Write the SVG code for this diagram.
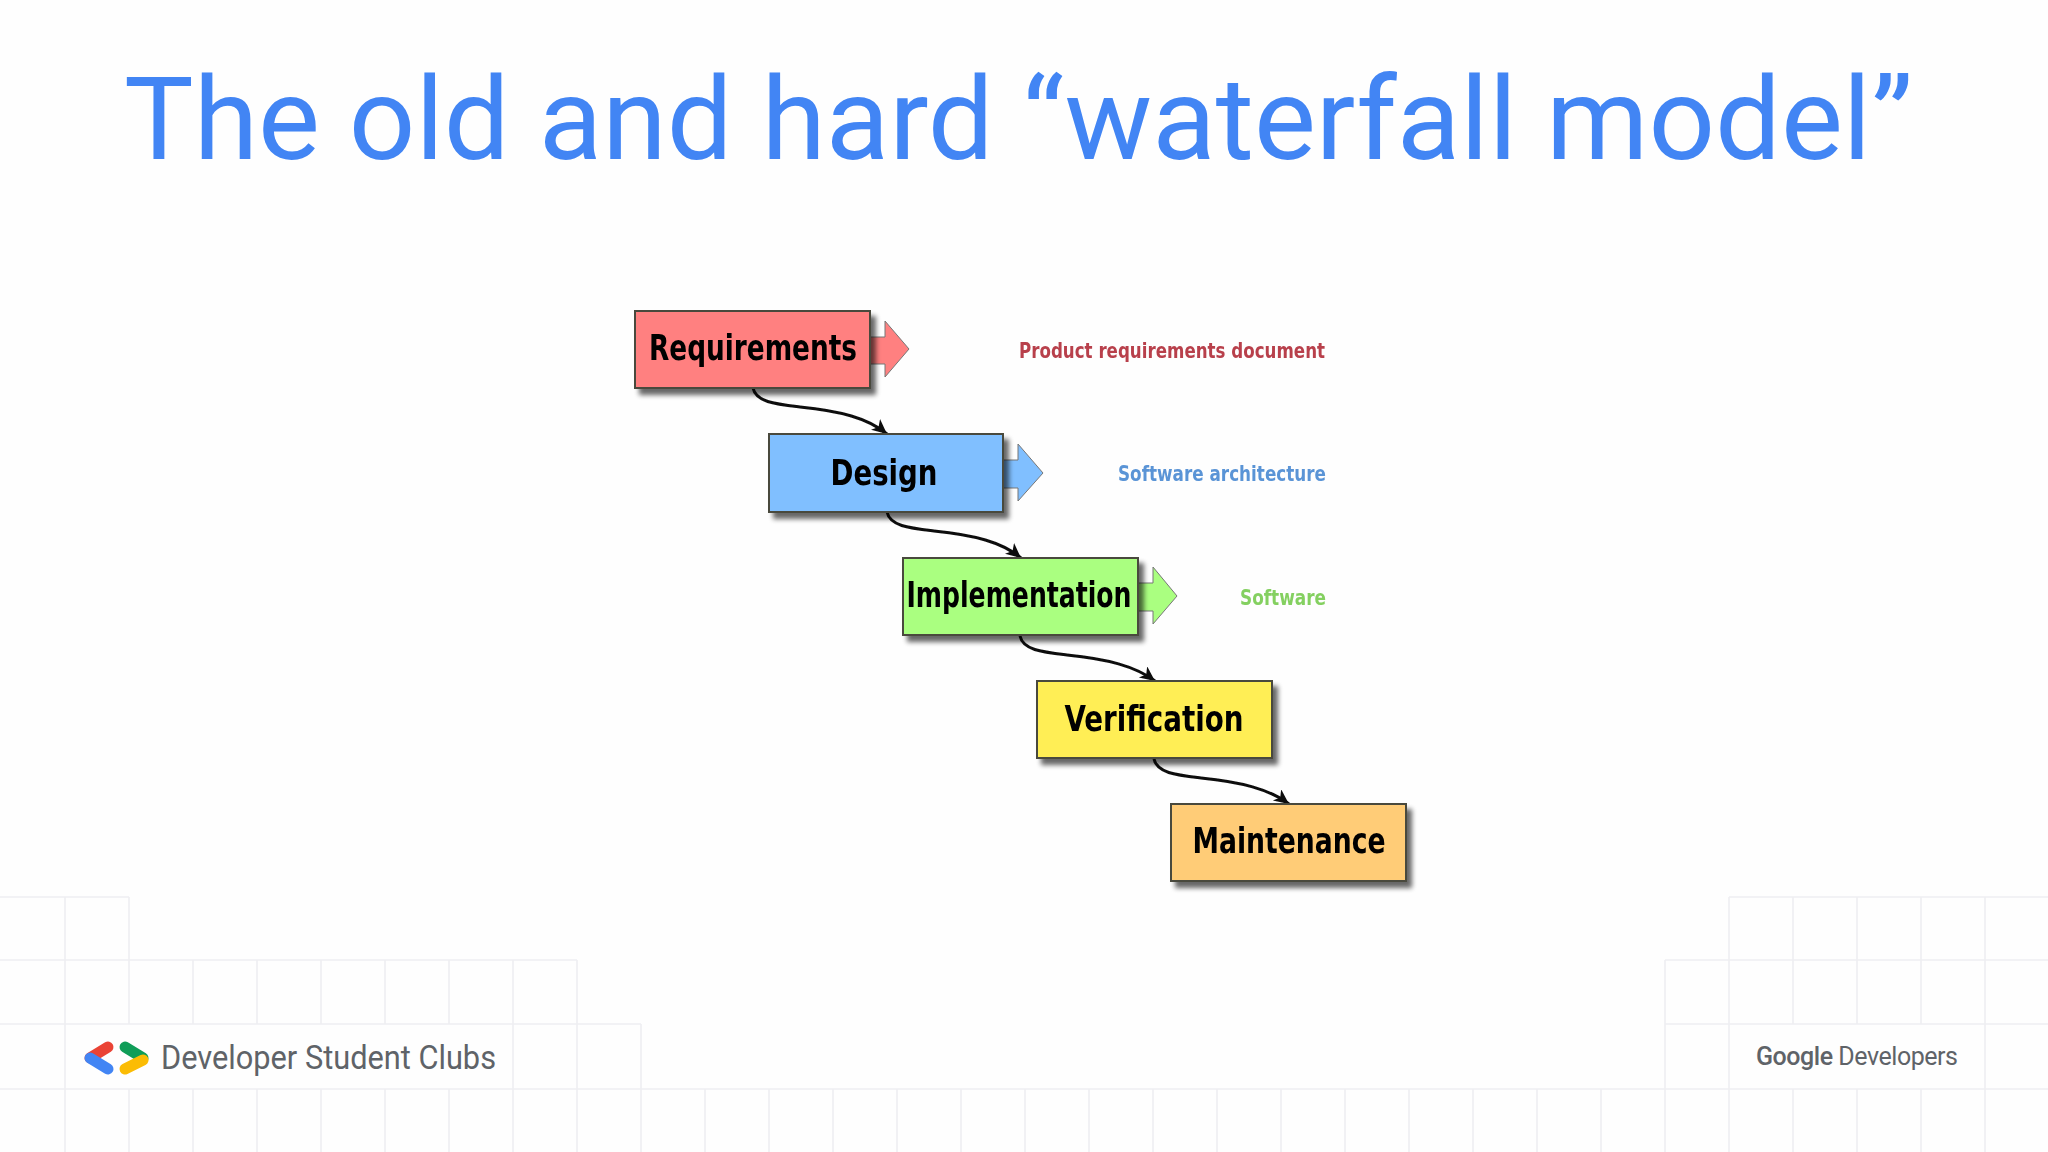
<svg xmlns="http://www.w3.org/2000/svg" width="2048" height="1152" viewBox="0 0 2048 1152">
<style>
.grid{stroke:#eeeef2;stroke-width:1.6;fill:none}
.box{stroke:#4a4a3c;stroke-width:2}
.lbl{font-family:"DejaVu Sans Condensed","DejaVu Sans",sans-serif;font-weight:700;font-size:35px;fill:#050505;text-anchor:middle}
.out{font-family:"DejaVu Sans Condensed","DejaVu Sans",sans-serif;font-weight:700;font-size:22px;text-anchor:end}
.conn{fill:none;stroke:#111;stroke-width:3;marker-end:url(#ah)}
.arr{stroke:#777;stroke-width:1}
</style>
<defs>
<filter id="sh" x="-10%" y="-10%" width="125%" height="130%"><feGaussianBlur in="SourceAlpha" stdDeviation="2.5"/><feOffset dx="5" dy="6"/><feComponentTransfer><feFuncA type="linear" slope="0.6"/></feComponentTransfer><feMerge><feMergeNode/><feMergeNode in="SourceGraphic"/></feMerge></filter>
<filter id="soft" x="-5%" y="-20%" width="110%" height="140%"><feGaussianBlur stdDeviation="0.6"/></filter>
<marker id="ah" markerUnits="userSpaceOnUse" markerWidth="18" markerHeight="16" refX="15" refY="7" orient="auto"><path d="M0 0L15 7L0 14L4 7Z" fill="#111"/></marker>
</defs>
<rect width="2048" height="1152" fill="#fefefe"/>
<g id="grid">
<path class="grid" d="M0 897H129M0 960H577M0 1024H641M0 1089H2048M1729 897H2048M1665 960H2048M1665 1024H2048"/>
<path class="grid" d="M65 897V1152M129 897V1024M193 960V1024M257 960V1024M321 960V1024M385 960V1024M449 960V1024M513 960V1152M577 960V1152M641 1024V1152"/>
<path class="grid" d="M129 1089V1152M193 1089V1152M257 1089V1152M321 1089V1152M385 1089V1152M449 1089V1152M705 1089V1152M769 1089V1152M833 1089V1152M897 1089V1152M961 1089V1152M1025 1089V1152M1089 1089V1152M1153 1089V1152M1217 1089V1152M1281 1089V1152M1345 1089V1152M1409 1089V1152M1473 1089V1152M1537 1089V1152M1601 1089V1152"/>
<path class="grid" d="M1665 960V1152M1729 897V1152M1793 897V1024M1857 897V1024M1921 897V1024M1985 897V1152M1793 1089V1152M1857 1089V1152M1921 1089V1152"/>
</g>
<text id="title" x="124" y="159" font-family="Roboto, sans-serif" font-size="115" font-weight="400" fill="#4285f4" textLength="1789" lengthAdjust="spacingAndGlyphs">The old and hard “waterfall model”</text>
<g id="connectors" filter="url(#soft)">
<path class="conn" d="M753 388C756 402 775 404 800 407C840 411 868 418 887 434"/>
<path class="conn" d="M887 512C890 526 909 528 934 531C974 535 1002 542 1021 558"/>
<path class="conn" d="M1020 636C1023 650 1042 652 1067 655C1107 659 1135 666 1155 681"/>
<path class="conn" d="M1154 759C1157 773 1176 775 1201 778C1241 782 1269 789 1289 804"/>
</g>
<g id="requirements">
<path class="arr" fill="#ff8080" d="M870 337H885V321L909 349L885 377V364H870Z"/>
<rect class="box" x="635" y="311" width="235" height="77" fill="#ff8080" filter="url(#sh)"/>
<text class="lbl" x="753" y="360" textLength="208" lengthAdjust="spacingAndGlyphs" filter="url(#soft)">Requirements</text>
</g>
<g id="design">
<path class="arr" fill="#80bfff" d="M1003 460H1018V444L1043 473L1018 501V488H1003Z"/>
<rect class="box" x="769" y="434" width="234" height="78" fill="#80bfff" filter="url(#sh)"/>
<text class="lbl" x="884" y="485" textLength="107" lengthAdjust="spacingAndGlyphs" filter="url(#soft)">Design</text>
</g>
<g id="implementation">
<path class="arr" fill="#aaff80" d="M1138 583H1153V567L1177 596L1153 624V611H1138Z"/>
<rect class="box" x="903" y="558" width="235" height="77" fill="#aaff80" filter="url(#sh)"/>
<text class="lbl" x="1019" y="607" textLength="225" lengthAdjust="spacingAndGlyphs" filter="url(#soft)">Implementation</text>
</g>
<g id="verification">
<rect class="box" x="1037" y="681" width="235" height="77" fill="#ffee55" filter="url(#sh)"/>
<text class="lbl" x="1154" y="731" textLength="179" lengthAdjust="spacingAndGlyphs" filter="url(#soft)">Verification</text>
</g>
<g id="maintenance">
<rect class="box" x="1171" y="804" width="235" height="77" fill="#ffcc77" filter="url(#sh)"/>
<text class="lbl" x="1289" y="853" textLength="193" lengthAdjust="spacingAndGlyphs" filter="url(#soft)">Maintenance</text>
</g>
<g id="outputs" filter="url(#soft)">
<text class="out" x="1325" y="358" fill="#b8404c" textLength="306" lengthAdjust="spacingAndGlyphs">Product requirements document</text>
<text class="out" x="1326" y="481" fill="#5a94d6" textLength="208" lengthAdjust="spacingAndGlyphs">Software architecture</text>
<text class="out" x="1326" y="605" fill="#84d060" textLength="86" lengthAdjust="spacingAndGlyphs">Software</text>
</g>
<g id="dsc-logo">
<path d="M108 1047L90 1058" stroke="#ea4335" stroke-width="11" stroke-linecap="round" fill="none"/>
<path d="M90 1058L108 1069" stroke="#4285f4" stroke-width="11" stroke-linecap="round" fill="none"/>
<path d="M125 1047L143 1058" stroke="#0f9d58" stroke-width="11" stroke-linecap="round" fill="none"/>
<path d="M125 1069L143 1060" stroke="#fbbc04" stroke-width="11" stroke-linecap="round" fill="none"/>
<text x="161" y="1069" font-family="Roboto, sans-serif" font-size="33" font-weight="400" fill="#5f6368" textLength="335" lengthAdjust="spacingAndGlyphs">Developer Student Clubs</text>
</g>
<g id="google-developers">
<text x="1756" y="1065" font-family="Roboto, sans-serif" font-size="25" fill="#5f6368" textLength="202" lengthAdjust="spacing"><tspan font-weight="500">Google</tspan> Developers</text>
</g>
</svg>
